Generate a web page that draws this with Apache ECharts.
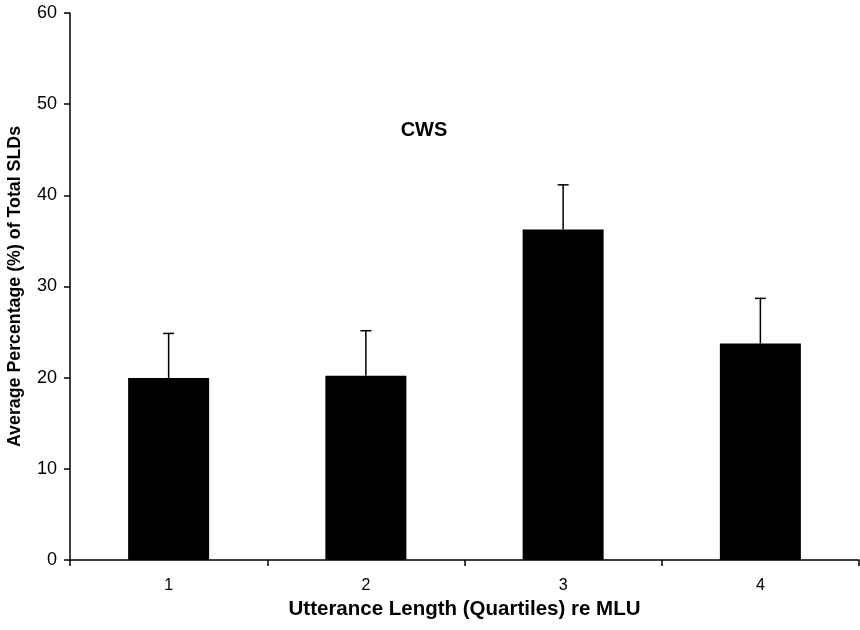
<!DOCTYPE html>
<html>
<head>
<meta charset="utf-8">
<script src="https://cdn.jsdelivr.net/npm/echarts@6/dist/echarts.min.js"></script>
<style>
  html, body { margin: 0; padding: 0; background: #fff; }
  #chart { width: 860px; height: 630px; }
</style>
</head>
<body>
<div id="chart"></div>
<script>
// data
const categories = ['1', '2', '3', '4'];
const meanValues = [19.95, 20.2, 36.25, 23.75];
const errorTops = [24.85, 25.15, 41.15, 28.7];
const yTicks = { min: 0, max: 60, interval: 10 };

const chartDom = document.getElementById('chart');
const myChart = echarts.init(chartDom, null, { renderer: 'canvas' });

const errorData = categories.map((c, i) => [i, meanValues[i], errorTops[i]]);

const fontFamily = '"Liberation Sans", Arial, sans-serif';

const option = {
  animation: false,
  title: {
    text: 'CWS',
    left: 419,
    top: 115,
    textAlign: 'center',
    textStyle: { fontFamily, fontSize: 20, fontWeight: 'bold', color: '#000' }
  },
  grid: {
    left: 70,
    right: 1,
    top: 13,
    bottom: 70,
    outerBoundsMode: 'none'
  },
  xAxis: {
    type: 'category',
    data: categories,
    name: 'Utterance Length (Quartiles) re MLU',
    nameLocation: 'middle',
    nameGap: 39,
    nameTextStyle: { fontFamily, fontSize: 20.5, fontWeight: 'bold', color: '#000' },
    axisLine: { lineStyle: { color: '#000', width: 1.5 } },
    axisTick: { show: true, inside: false, length: 6, lineStyle: { color: '#000', width: 1.5 } },
    axisLabel: { fontFamily, fontSize: 16, color: '#000', margin: 18 }
  },
  yAxis: {
    type: 'value',
    min: yTicks.min,
    max: yTicks.max,
    interval: yTicks.interval,
    name: 'Average Percentage (%) of Total SLDs',
    nameLocation: 'middle',
    nameGap: 46,
    nameTextStyle: { fontFamily, fontSize: 17.8, fontWeight: 'bold', color: '#000' },
    axisLine: { show: true, lineStyle: { color: '#000', width: 1.5 } },
    axisTick: { show: true, inside: false, length: 6, lineStyle: { color: '#000', width: 1.5 } },
    axisLabel: { fontFamily, fontSize: 18, color: '#000', margin: 13 },
    splitLine: { show: false }
  },
  series: [
    {
      name: 'CWS',
      type: 'bar',
      data: meanValues,
      barWidth: 81,
      itemStyle: { color: '#000' }
    },
    {
      name: 'error',
      type: 'custom',
      data: errorData,
      z: 5,
      renderItem: function (params, api) {
        const x = api.value(0);
        const low = api.coord([x, api.value(1)]);
        const high = api.coord([x, api.value(2)]);
        const half = 5.5;
        const style = { stroke: '#000', lineWidth: 1.5 };
        return {
          type: 'group',
          children: [
            { type: 'line', shape: { x1: high[0], y1: high[1], x2: low[0], y2: low[1] }, style },
            { type: 'line', shape: { x1: high[0] - half, y1: high[1], x2: high[0] + half, y2: high[1] }, style }
          ]
        };
      }
    }
  ]
};

myChart.setOption(option);
</script>
</body>
</html>
